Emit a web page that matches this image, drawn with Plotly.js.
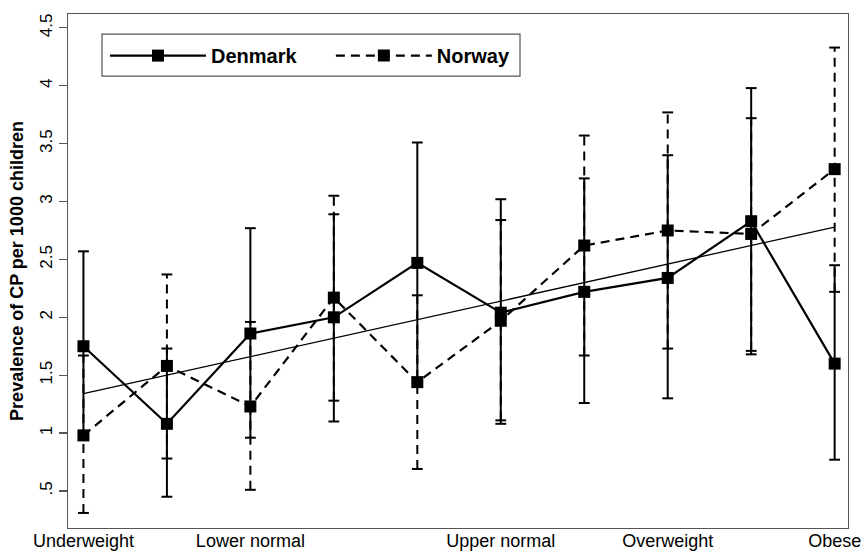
<!DOCTYPE html>
<html>
<head>
<meta charset="utf-8">
<script src="https://cdn.plot.ly/plotly-3.0.1.min.js"></script>
<style>html,body{margin:0;padding:0;background:#fff;}#chart{width:866px;height:553px;}</style>
</head>
<body>
<div id="chart"></div>
<script>
const xPos = [1, 2, 3, 4, 5, 6, 7, 8, 9, 10];
const xTickVals = [1, 3, 6, 8, 10];
const xTickText = ['Underweight', 'Lower normal', 'Upper normal', 'Overweight', 'Obese'];
const yTickVals = [0.5, 1, 1.5, 2, 2.5, 3, 3.5, 4, 4.5];
const yTickText = ['.5', '1', '1.5', '2', '2.5', '3', '3.5', '4', '4.5'];

const denmark   = [1.75, 1.08, 1.86, 2.00, 2.47, 2.04, 2.22, 2.34, 2.83, 1.60];
const denmarkLo = [0.95, 0.45, 0.96, 1.10, 1.43, 1.08, 1.26, 1.30, 1.68, 0.77];
const denmarkHi = [2.57, 1.73, 2.77, 2.89, 3.51, 3.02, 3.20, 3.40, 3.98, 2.45];

const norway   = [0.98, 1.58, 1.23, 2.17, 1.44, 1.97, 2.62, 2.75, 2.72, 3.28];
const norwayLo = [0.31, 0.78, 0.51, 1.28, 0.69, 1.11, 1.67, 1.73, 1.71, 2.22];
const norwayHi = [1.67, 2.37, 1.96, 3.05, 2.19, 2.84, 3.57, 3.77, 3.72, 4.33];

const fitX = [1, 10];
const fitY = [1.34, 2.78];

const CAP = 0.065;
const FONT = 'Liberation Sans, Arial, Helvetica, sans-serif';

function stems(xs, lo, hi) {
  const x = [], y = [];
  xs.forEach((xv, i) => { x.push(xv, xv, null); y.push(lo[i], hi[i], null); });
  return {x, y};
}
function caps(xs, lo, hi) {
  const x = [], y = [];
  xs.forEach((xv, i) => {
    x.push(xv - CAP, xv + CAP, null, xv - CAP, xv + CAP, null);
    y.push(lo[i], lo[i], null, hi[i], hi[i], null);
  });
  return {x, y};
}

const dS = stems(xPos, denmarkLo, denmarkHi);
const dC = caps(xPos, denmarkLo, denmarkHi);
const nS = stems(xPos, norwayLo, norwayHi);
const nC = caps(xPos, norwayLo, norwayHi);

const traces = [
  {x: dS.x, y: dS.y, mode: 'lines', line: {color: '#000', width: 2}, showlegend: false, hoverinfo: 'skip'},
  {x: dC.x, y: dC.y, mode: 'lines', line: {color: '#000', width: 2}, showlegend: false, hoverinfo: 'skip'},
  {x: nS.x, y: nS.y, mode: 'lines', line: {color: '#000', width: 2, dash: '9px,6px'}, showlegend: false, hoverinfo: 'skip'},
  {x: nC.x, y: nC.y, mode: 'lines', line: {color: '#000', width: 2}, showlegend: false, hoverinfo: 'skip'},
  {x: fitX, y: fitY, mode: 'lines', line: {color: '#000', width: 1.3}, showlegend: false, hoverinfo: 'skip'},
  {x: xPos, y: denmark, name: 'Denmark', mode: 'lines+markers', legend: 'legend',
   line: {color: '#000', width: 2.2}, marker: {symbol: 'square', size: 12, color: '#000'}},
  {x: xPos, y: norway, name: 'Norway', mode: 'lines+markers', legend: 'legend2',
   line: {color: '#000', width: 2.2, dash: '9px,6px'}, marker: {symbol: 'square', size: 12, color: '#000'}}
];

const legendCommon = {
  orientation: 'h', xanchor: 'left', y: 0.957, yanchor: 'top',
  bgcolor: 'rgba(0,0,0,0)', borderwidth: 0,
  font: {family: FONT, size: 20, color: '#000', weight: 'bold'},
  itemwidth: 96
};

const layout = {
  width: 866, height: 553,
  margin: {l: 68, r: 18, t: 14, b: 25},
  paper_bgcolor: '#fff', plot_bgcolor: '#fff',
  font: {family: FONT, color: '#000'},
  showlegend: true,
  legend: Object.assign({}, legendCommon, {x: 0.0474}),
  legend2: Object.assign({}, legendCommon, {x: 0.337}),
  shapes: [{
    type: 'rect', xref: 'paper', yref: 'paper', layer: 'below',
    x0: 0.0436, x1: 0.5795, y0: 0.879, y1: 0.961,
    line: {color: '#555', width: 1.2}, fillcolor: '#fff'
  }],
  xaxis: {
    range: [0.815, 10.16], tickmode: 'array', tickvals: xTickVals, ticktext: xTickText,
    ticks: '', showgrid: false, zeroline: false, ticklabelstandoff: -4,
    showline: true, mirror: true, linecolor: '#555', linewidth: 1.3,
    tickfont: {family: FONT, size: 18, color: '#000'}
  },
  yaxis: {
    range: [0.18, 4.62], tickmode: 'array', tickvals: yTickVals, ticktext: yTickText,
    ticks: 'outside', ticklen: 8, tickwidth: 1.2, tickcolor: '#555', tickangle: -90,
    showgrid: false, zeroline: false,
    showline: true, mirror: true, linecolor: '#555', linewidth: 1.3,
    tickfont: {family: FONT, size: 17, color: '#000'},
    title: {text: 'Prevalence of CP per 1000 children', standoff: 8,
            font: {family: FONT, size: 18, color: '#000', weight: 'bold'}}
  }
};

Plotly.newPlot('chart', traces, layout, {displayModeBar: false, staticPlot: true});
</script>
</body>
</html>
